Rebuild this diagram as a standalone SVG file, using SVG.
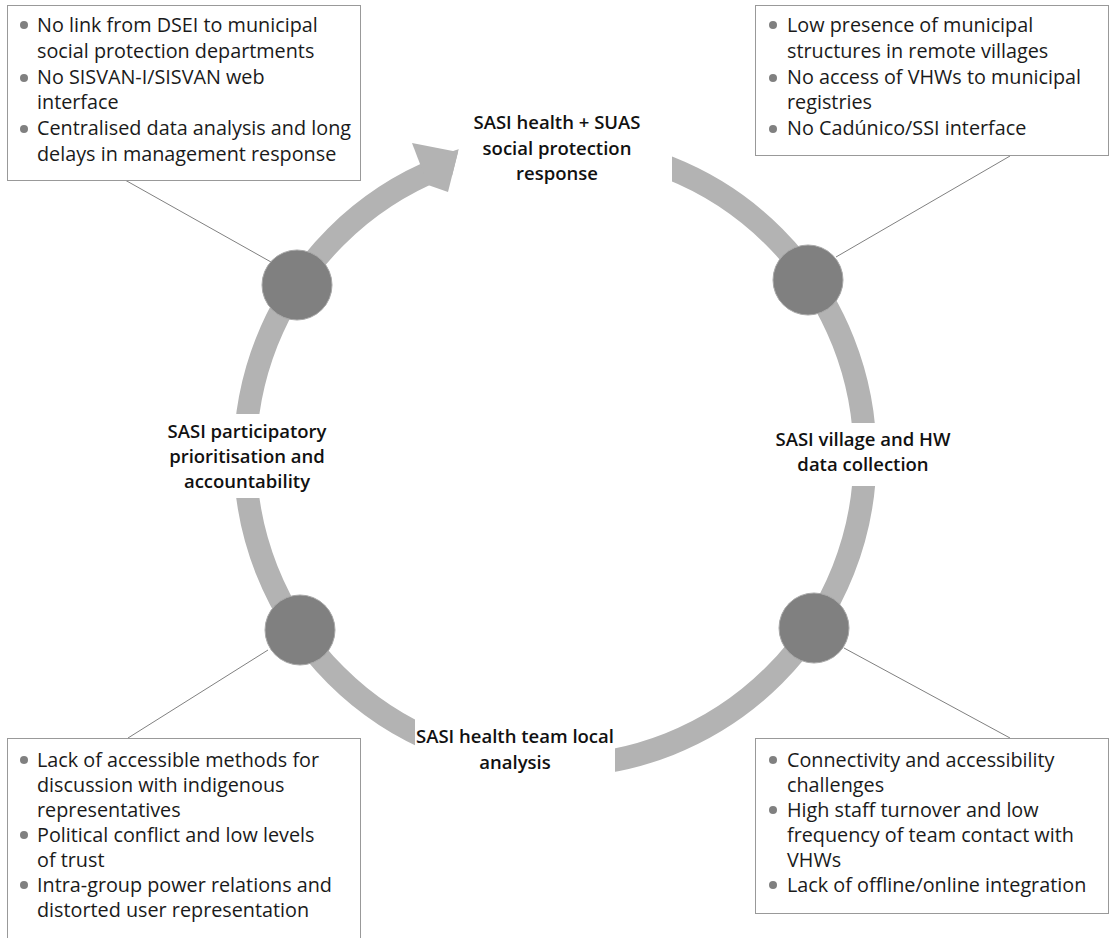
<svg xmlns="http://www.w3.org/2000/svg" width="1115" height="938" viewBox="0 0 1115 938">
<style>
.box{fill:#fff;stroke:#999;stroke-width:1}
.body{font-family:"Open Sans","Liberation Sans",sans-serif;font-size:19.8px;fill:#1a1a1a}
.lbl{font-family:"Open Sans","Liberation Sans",sans-serif;font-size:18.5px;font-weight:600;fill:#111;text-anchor:middle}
.dot{fill:#808080}
.node{fill:#808080;stroke:#a8a8a8;stroke-width:1}
.conn{stroke:#808080;stroke-width:1;fill:none}
.ring{fill:none;stroke:#b3b3b3;stroke-width:23}
.gap{fill:#fff}
</style>
<rect width="1115" height="938" fill="#fff"/>
<g id="cycle">
<circle class="ring" cx="555" cy="456" r="310"/>
<polygon class="gap" points="471,100 672,100 672,200 446,200"/>
<rect class="gap" x="770" y="423" width="186" height="63"/>
<rect class="gap" x="160" y="414" width="180" height="84"/>
<rect class="gap" x="415" y="700" width="200" height="95"/>
<polygon fill="#b3b3b3" points="412,143 458,152 448,192 428,185"/>
</g>
<g id="connectors">
<line class="conn" x1="125" y1="180" x2="271" y2="262"/>
<line class="conn" x1="1010" y1="156" x2="836" y2="257"/>
<line class="conn" x1="128" y1="738" x2="268" y2="650"/>
<line class="conn" x1="1010" y1="738" x2="844" y2="648"/>
</g>
<g id="node-top-left"><circle class="node" cx="297" cy="285" r="35"/></g>
<g id="node-top-right"><circle class="node" cx="808" cy="280" r="35"/></g>
<g id="node-bottom-left"><circle class="node" cx="300" cy="630" r="35"/></g>
<g id="node-bottom-right"><circle class="node" cx="814" cy="628" r="35"/></g>
<g id="label-top">
<text class="lbl" x="557" y="129">SASI health + SUAS</text>
<text class="lbl" x="557" y="155">social protection</text>
<text class="lbl" x="557" y="180">response</text>
</g>
<g id="label-left">
<text class="lbl" x="247" y="438">SASI participatory</text>
<text class="lbl" x="247" y="463">prioritisation and</text>
<text class="lbl" x="247" y="488">accountability</text>
</g>
<g id="label-right">
<text class="lbl" x="863" y="446">SASI village and HW</text>
<text class="lbl" x="863" y="471">data collection</text>
</g>
<g id="label-bottom">
<text class="lbl" x="515" y="743">SASI health team local</text>
<text class="lbl" x="515" y="769">analysis</text>
</g>
<g id="box-top-left">
<rect class="box" x="7.5" y="5.5" width="353" height="175"/>
<circle class="dot" cx="24" cy="25" r="4"/>
<circle class="dot" cx="24" cy="78" r="4"/>
<circle class="dot" cx="24" cy="129" r="4"/>
<text class="body" x="37" y="32">No link from DSEI to municipal</text>
<text class="body" x="37" y="58">social protection departments</text>
<text class="body" x="37" y="84">No SISVAN-I/SISVAN web</text>
<text class="body" x="37" y="109">interface</text>
<text class="body" x="37" y="135">Centralised data analysis and long</text>
<text class="body" x="37" y="161">delays in management response</text>
</g>
<g id="box-top-right">
<rect class="box" x="755.5" y="5.5" width="353" height="150"/>
<circle class="dot" cx="773" cy="25" r="4"/>
<circle class="dot" cx="773" cy="78" r="4"/>
<circle class="dot" cx="773" cy="129" r="4"/>
<text class="body" x="787" y="32">Low presence of municipal</text>
<text class="body" x="787" y="58">structures in remote villages</text>
<text class="body" x="787" y="84">No access of VHWs to municipal</text>
<text class="body" x="787" y="109">registries</text>
<text class="body" x="787" y="135">No Cadúnico/SSI interface</text>
</g>
<g id="box-bottom-left">
<rect class="box" x="7.5" y="738.5" width="353" height="210"/>
<circle class="dot" cx="24" cy="760" r="4"/>
<circle class="dot" cx="24" cy="835" r="4"/>
<circle class="dot" cx="24" cy="885" r="4"/>
<text class="body" x="37" y="767">Lack of accessible methods for</text>
<text class="body" x="37" y="792">discussion with indigenous</text>
<text class="body" x="37" y="817">representatives</text>
<text class="body" x="37" y="842">Political conflict and low levels</text>
<text class="body" x="37" y="867">of trust</text>
<text class="body" x="37" y="892">Intra-group power relations and</text>
<text class="body" x="37" y="917">distorted user representation</text>
</g>
<g id="box-bottom-right">
<rect class="box" x="755.5" y="738.5" width="353" height="175"/>
<circle class="dot" cx="773" cy="760" r="4"/>
<circle class="dot" cx="773" cy="810" r="4"/>
<circle class="dot" cx="773" cy="885" r="4"/>
<text class="body" x="787" y="767">Connectivity and accessibility</text>
<text class="body" x="787" y="792">challenges</text>
<text class="body" x="787" y="817">High staff turnover and low</text>
<text class="body" x="787" y="842">frequency of team contact with</text>
<text class="body" x="787" y="867">VHWs</text>
<text class="body" x="787" y="892">Lack of offline/online integration</text>
</g>
</svg>
